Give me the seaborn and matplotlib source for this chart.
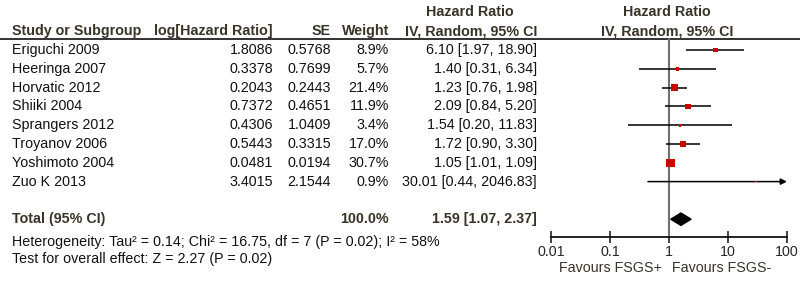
import numpy as np
import pandas as pd
import matplotlib
matplotlib.use("Agg")
import matplotlib.pyplot as plt
import seaborn as sns

# data
studies = ["Eriguchi 2009", "Heeringa 2007", "Horvatic 2012", "Shiiki 2004",
           "Sprangers 2012", "Troyanov 2006", "Yoshimoto 2004", "Zuo K 2013"]
log_hr = ["1.8086", "0.3378", "0.2043", "0.7372", "0.4306", "0.5443", "0.0481", "3.4015"]
se = ["0.5768", "0.7699", "0.2443", "0.4651", "1.0409", "0.3315", "0.0194", "2.1544"]
weight = [8.9, 5.7, 21.4, 11.9, 3.4, 17.0, 30.7, 0.9]
hr = [6.10, 1.40, 1.23, 2.09, 1.54, 1.72, 1.05, 30.01]
ci_lo = [1.97, 0.31, 0.76, 0.84, 0.20, 0.90, 1.01, 0.44]
ci_hi = [18.90, 6.34, 1.98, 5.20, 11.83, 3.30, 1.09, 2046.83]

total_weight = 100.0
total_hr, total_lo, total_hi = 1.59, 1.07, 2.37
het_text = "Heterogeneity: Tau\u00b2 = 0.14; Chi\u00b2 = 16.75, df = 7 (P = 0.02); I\u00b2 = 58%"
effect_text = "Test for overall effect: Z = 2.27 (P = 0.02)"
tick_vals = [0.01, 0.1, 1, 10, 100]
tick_labels = ["0.01", "0.1", "1", "10", "100"]

df = pd.DataFrame({"study": studies, "weight": weight, "hr": hr,
                   "lo": ci_lo, "hi": ci_hi})
df["row"] = np.arange(len(df))
total_row = len(df) + 1

sns.set_theme(style="white")
plt.rcParams["font.family"] = ["Liberation Sans", "DejaVu Sans"]
fs = 10.3
hdr_col = "#3a3328"
txt_col = "#111111"

fig = plt.figure(figsize=(8, 2.84), dpi=100)

# row r sits at pixel 50 + 18.8 * r
def r2px(px):
    return (px - 50) / 18.8

tab = fig.add_axes([0, 0, 1, 1], zorder=0)
tab.set_xlim(0, 800)
tab.set_ylim(r2px(284), r2px(0))
tab.axis("off")

# headers
hy1, hy2 = r2px(12), r2px(31)
bold = dict(va="center", fontsize=fs, fontweight="bold", color=hdr_col)
tab.text(12, hy2, "Study or Subgroup", ha="left", **bold)
tab.text(273, hy2, "log[Hazard Ratio]", ha="right", **bold)
tab.text(331, hy2, "SE", ha="right", **bold)
tab.text(389, hy2, "Weight", ha="right", **bold)
tab.text(470, hy1, "Hazard Ratio", ha="center", **bold)
tab.text(537, hy2, "IV, Random, 95% CI", ha="right", **bold)
tab.text(667, hy1, "Hazard Ratio", ha="center", **bold)
tab.text(667, hy2, "IV, Random, 95% CI", ha="center", **bold)
tab.axhline(r2px(38.5), color="#222222", lw=1.3)

# study rows
plain = dict(va="center", fontsize=fs, color=txt_col)
for i, row in df.iterrows():
    r = row["row"]
    tab.text(12, r, row["study"], ha="left", **plain)
    tab.text(273, r, log_hr[i], ha="right", **plain)
    tab.text(331, r, se[i], ha="right", **plain)
    tab.text(389, r, f"{row['weight']:.1f}%", ha="right", **plain)
    tab.text(537, r, f"{row['hr']:.2f} [{row['lo']:.2f}, {row['hi']:.2f}]", ha="right", **plain)

# total
tab.text(12, total_row, "Total (95% CI)", ha="left", **bold)
tab.text(389, total_row, f"{total_weight:.1f}%", ha="right", **bold)
tab.text(537, total_row, f"{total_hr:.2f} [{total_lo:.2f}, {total_hi:.2f}]", ha="right", **bold)
tab.text(12, r2px(242), het_text, ha="left", **plain)
tab.text(12, r2px(259), effect_text, ha="left", **plain)

# forest panel
ax = fig.add_axes([551 / 800, 1 - 237 / 284, 236 / 800, (237 - 38) / 284], zorder=1)
ax.patch.set_alpha(0)
ax.set_xscale("log")
ax.set_xlim(tick_vals[0], tick_vals[-1])
ax.set_ylim(r2px(237), r2px(38))
ax.axvline(1, color="#707070", lw=1.5, zorder=1)

xmax = tick_vals[-1]
for _, row in df.iterrows():
    if row["hi"] > xmax:
        ax.annotate("", xy=(xmax, row["row"]), xytext=(row["lo"], row["row"]),
                    arrowprops=dict(arrowstyle="-|>", color="black", lw=1.1,
                                    mutation_scale=9, shrinkA=0, shrinkB=0), zorder=2)
    else:
        ax.hlines(row["row"], row["lo"], row["hi"], color="black", lw=1.1, zorder=2)

smax = (8.5 * 0.72) ** 2
sns.scatterplot(data=df, x="hr", y="row", size="weight",
                sizes=(smax * min(weight) / max(weight), smax), size_norm=(min(weight), max(weight)),
                marker="s", color="#cc0000", edgecolor="none", legend=False, ax=ax, zorder=3)

# pooled diamond
ax.fill([total_lo, total_hr, total_hi, total_hr],
        [total_row, total_row - 0.33, total_row, total_row + 0.33],
        color="black", zorder=3)

for s in ["top", "left", "right"]:
    ax.spines[s].set_visible(False)
ax.spines["bottom"].set_color("#111111")
ax.spines["bottom"].set_linewidth(1.3)
ax.set_xticks(tick_vals)
ax.set_xticklabels(tick_labels)
ax.minorticks_off()
ax.set_yticks([])
ax.tick_params(axis="x", direction="inout", length=8, width=1.1, color="#111111",
               labelsize=fs, pad=2, bottom=True)
ax.set_xlabel("")
ax.set_ylabel("")

fig.text(610 / 800, 1 - 268 / 284, "Favours FSGS+", ha="center", va="center", fontsize=fs, color=hdr_col)
fig.text(722 / 800, 1 - 268 / 284, "Favours FSGS-", ha="center", va="center", fontsize=fs, color=hdr_col)

fig.savefig("out.png", dpi=100)
